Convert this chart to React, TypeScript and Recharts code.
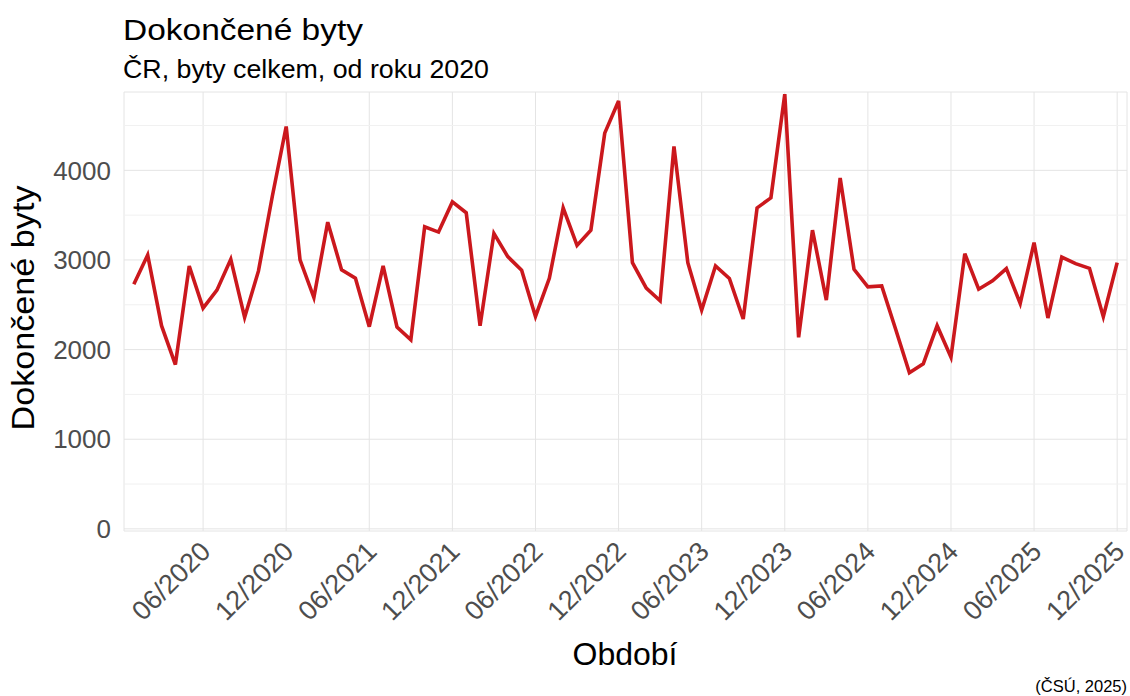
import { CartesianGrid, Line, LineChart, ReferenceLine, XAxis, YAxis } from 'recharts';

const years = [2020, 2021, 2022, 2023, 2024, 2025];
const monthNames = ['01', '02', '03', '04', '05', '06', '07', '08', '09', '10', '11', '12'];

// dokončené byty, měsíčně 01/2020 – 12/2025
const completed = [
  2730, 3055, 2267, 1833, 2933, 2463, 2663, 3007, 2359, 2878, 3711, 4489,
  3000, 2581, 3422, 2889, 2796, 2256, 2933, 2252, 2110, 3370, 3311, 3648,
  3526, 2267, 3296, 3037, 2885, 2370, 2796, 3581, 3163, 3333, 4415, 4774,
  2970, 2685, 2544, 4267, 2970, 2441, 2933, 2793, 2341, 3581, 3693, 4850,
  2137, 3333, 2552, 3915, 2896, 2700, 2711, 2230, 1742, 1841, 2267, 1915,
  3070, 2674, 2767, 2904, 2515, 3193, 2352, 3033, 2959, 2907, 2367, 2970,
];

const xTicks = [5, 11, 17, 23, 29, 35, 41, 47, 53, 59, 65, 71];
const yTicks = [0, 1000, 2000, 3000, 4000];
const yMinor = [500, 1500, 2500, 3500, 4500];

const periods = years.flatMap((y) => monthNames.map((m) => `${m}/${y}`));
const data = completed.map((v, i) => ({ idx: i, period: periods[i], byty: v }));

const FONT = '"Liberation Sans", Arial, Helvetica, sans-serif';

const XTick = (props: any) => {
  const { x, y, payload } = props;
  return (
    <g transform={`translate(${x + 9},${y + 22})`}>
      <text x={0} y={0} transform="rotate(-45)" textAnchor="end" fill="#4d4d4d" fontSize={27} fontFamily={FONT}>
        {periods[payload.value]}
      </text>
    </g>
  );
};

export default function App() {
  return (
    <div style={{ position: 'fixed', left: 0, top: 0, width: 1130, height: 696, background: '#fff' }}>
      <LineChart
        width={1130}
        height={696}
        data={data}
        margin={{ top: 92, right: 3, bottom: 135, left: 0 }}
      >
        {yMinor.map((v) => (
          <ReferenceLine key={v} y={v} stroke="#f1f1f1" strokeWidth={1} />
        ))}
        <CartesianGrid stroke="#e4e4e4" strokeWidth={1} />
        <XAxis
          dataKey="idx"
          type="number"
          domain={[-0.71, 71.71]}
          ticks={xTicks}
          interval={0}
          height={30}
          axisLine={false}
          tickLine={false}
          tickSize={0}
          tickMargin={0}
          tick={<XTick />}
          allowDataOverflow
        />
        <YAxis
          type="number"
          domain={[-24, 4874]}
          ticks={yTicks}
          axisLine={false}
          tickLine={false}
          tickSize={0}
          tickMargin={13}
          width={124}
          allowDataOverflow
          tick={{ fill: '#4d4d4d', fontSize: 26, fontFamily: FONT }}
        />
        <Line
          type="linear"
          dataKey="byty"
          stroke="#cb181d"
          strokeWidth={3.6}
          dot={false}
          activeDot={false}
          isAnimationActive={false}
        />
      </LineChart>
      <svg
        width={1130}
        height={696}
        style={{ position: 'absolute', left: 0, top: 0, pointerEvents: 'none' }}
        fontFamily={FONT}
      >
        <text x={123} y={40} fontSize={29} fill="#000" textLength={240} lengthAdjust="spacingAndGlyphs">
          Dokončené byty
        </text>
        <text x={123} y={78} fontSize={25} fill="#000" textLength={366} lengthAdjust="spacingAndGlyphs">
          ČR, byty celkem, od roku 2020
        </text>
        <text
          transform="translate(34,308) rotate(-90)"
          textAnchor="middle"
          fontSize={31}
          fill="#000"
          textLength={245}
          lengthAdjust="spacingAndGlyphs"
        >
          Dokončené byty
        </text>
        <text x={625} y={665} textAnchor="middle" fontSize={32} fill="#000">Období</text>
        <text x={1127} y={692} textAnchor="end" fontSize={16.5} fill="#000">(ČSÚ, 2025)</text>
      </svg>
    </div>
  );
}
